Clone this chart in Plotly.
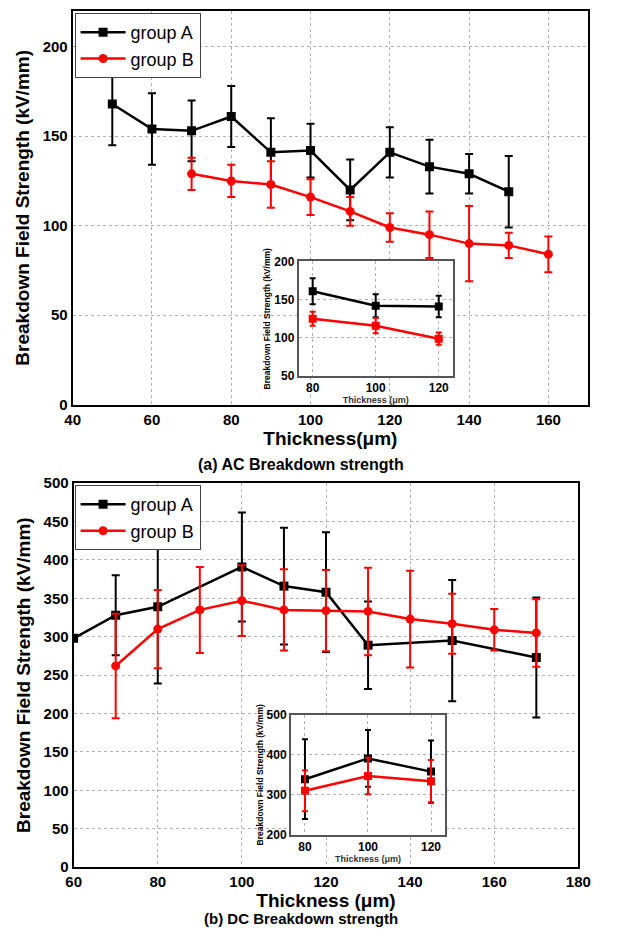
import plotly.graph_objects as go

# ---------- data ----------
ac_x_a = [50, 60, 70, 80, 90, 100, 110, 120, 130, 140, 150]
ac_y_a = [168, 154, 153, 161, 141, 142, 120, 141, 133, 129, 119]
ac_e_a = [23, 20, 17, 17, 19, 15, 17, 14, 15, 11, 20]

ac_x_b = [70, 80, 90, 100, 110, 120, 130, 140, 150, 160]
ac_y_b = [129, 125, 123, 116, 108, 99, 95, 90, 89, 84]
ac_e_b = [9, 9, 13, 10, 8, 8, 13, 21, 7, 10]

dc_x_a = [60, 70, 80, 100, 110, 120, 130, 150, 170]
dc_y_a = [298, 328, 339, 391, 366, 358, 289, 295, 273]
dc_e_a = [0, 52, 100, 71, 76, 78, 57, 79, 78]

dc_x_b = [70, 80, 90, 100, 110, 120, 130, 140, 150, 160, 170]
dc_y_b = [262, 310, 335, 347, 335, 334, 333, 323, 317, 309, 305]
dc_e_b = [68, 51, 56, 46, 53, 53, 57, 63, 39, 27, 44]

inset_x = [80, 100, 120]
series_names = ["group A", "group B"]
captions = ["(a) AC Breakdown strength", "(b) DC Breakdown strength"]

BLACK = "#000000"
RED = "#ff0000"
FONT = "Liberation Sans, Arial, sans-serif"


def subset(xs, ys, es, keep):
    out = [(x, y, e) for x, y, e in zip(xs, ys, es) if x in keep]
    return [o[0] for o in out], [o[1] for o in out], [o[2] for o in out]


fig = go.Figure()


def add_series(x, y, e, color, symbol, name, xa, ya, legend, showlegend, msize=9, lw=2.5, capw=4):
    fig.add_trace(go.Scatter(
        x=x, y=y, mode="lines+markers", name=name,
        line=dict(color=color, width=lw),
        marker=dict(symbol=symbol, size=msize, color=color),
        error_y=dict(type="data", array=e, visible=True, color=color,
                     thickness=2, width=capw),
        xaxis=xa, yaxis=ya, legend=legend, showlegend=showlegend,
    ))


add_series(ac_x_a, ac_y_a, ac_e_a, BLACK, "square", series_names[0], "x", "y", "legend", True)
add_series(ac_x_b, ac_y_b, ac_e_b, RED, "circle", series_names[1], "x", "y", "legend", True)
add_series(dc_x_a, dc_y_a, dc_e_a, BLACK, "square", series_names[0], "x2", "y2", "legend2", True)
add_series(dc_x_b, dc_y_b, dc_e_b, RED, "circle", series_names[1], "x2", "y2", "legend2", True)
x, y, e = subset(ac_x_a, ac_y_a, ac_e_a, inset_x)
add_series(x, y, e, BLACK, "square", series_names[0], "x3", "y3", "legend", False, msize=8, lw=2.5, capw=3)
x, y, e = subset(ac_x_b, ac_y_b, ac_e_b, inset_x)
add_series(x, y, e, RED, "square", series_names[1], "x3", "y3", "legend", False, msize=8, lw=2.5, capw=3)
x, y, e = subset(dc_x_a, dc_y_a, dc_e_a, inset_x)
add_series(x, y, e, BLACK, "square", series_names[0], "x4", "y4", "legend2", False, msize=8, lw=2.5, capw=3)
x, y, e = subset(dc_x_b, dc_y_b, dc_e_b, inset_x)
add_series(x, y, e, RED, "square", series_names[1], "x4", "y4", "legend2", False, msize=8, lw=2.5, capw=3)

# page offset (default body margin) and figure size fitting inside the window
OFF = 8
W, H = 618 - 2 * OFF, 950 - 2 * OFF


def clamp(v):
    return max(0.0, min(1.0, v))


def fx(p):
    return clamp((p - OFF) / W)


def fy(p):
    return clamp(1 - (p - OFF) / H)


def px_x(a, b):
    return [fx(a), fx(b)]


def px_y(top, bottom):
    return [fy(bottom), fy(top)]


grid = dict(showgrid=True, gridcolor="#b0b0b0", gridwidth=1, griddash="dot",
            zeroline=False, ticks="", showline=True, mirror=True)

main_tick = dict(family=FONT, size=15, color="black", weight="bold")
main_title = dict(family=FONT, size=19, color="black", weight="bold")
inset_tick = dict(family=FONT, size=12, color="black", weight="bold")

fig.update_layout(
    width=W, height=H,
    margin=dict(l=0, r=0, t=0, b=0),
    paper_bgcolor="white", plot_bgcolor="white",
    font=dict(family=FONT, color="black"),
    xaxis=dict(domain=px_x(75, 609), range=[40, 170], tickvals=[40, 60, 80, 100, 120, 140, 160],
               linecolor="black", linewidth=2, tickfont=main_tick, anchor="y",
               title=dict(text="Thickness(μm)", font=main_title, standoff=5), **grid),
    yaxis=dict(domain=px_y(10, 411), range=[0, 220], tickvals=[0, 50, 100, 150, 200],
               linecolor="black", linewidth=2, tickfont=main_tick, anchor="x",
               title=dict(text="Breakdown Field Strength (kV/mm)", font=main_title, standoff=8), **grid),
    xaxis2=dict(domain=px_x(76, 599), range=[60, 180], tickvals=[60, 80, 100, 120, 140, 160, 180],
                linecolor="black", linewidth=2, tickfont=main_tick, anchor="y2",
                ticklabeloverflow="allow",
                title=dict(text="Thickness (μm)", font=main_title, standoff=0), **grid),
    yaxis2=dict(domain=px_y(491, 882), range=[0, 500], tickvals=list(range(0, 501, 50)),
                linecolor="black", linewidth=2, tickfont=main_tick, anchor="x2",
                title=dict(text="Breakdown Field Strength (kV/mm)", font=main_title, standoff=8), **grid),
    xaxis3=dict(domain=px_x(309, 469), range=[75.5, 124.5], tickvals=[80, 100, 120],
                linecolor="#555555", linewidth=1.5, tickfont=inset_tick, anchor="y3",
                title=dict(text="Thickness (μm)", font=dict(family=FONT, size=9, color="#333", weight="bold"), standoff=2),
                **grid),
    yaxis3=dict(domain=px_y(265, 382), range=[50, 200], tickvals=[50, 100, 150, 200],
                linecolor="#555555", linewidth=1.5, tickfont=inset_tick, anchor="x3",
                title=dict(text="Breakdown Field Strength (kV/mm)", font=dict(family=FONT, size=8.5, color="black", weight="bold"), standoff=2),
                **grid),
    xaxis4=dict(domain=px_x(301, 461), range=[75.5, 124.5], tickvals=[80, 100, 120],
                linecolor="#555555", linewidth=1.5, tickfont=inset_tick, anchor="y4",
                title=dict(text="Thickness (μm)", font=dict(family=FONT, size=9, color="#333", weight="bold"), standoff=2),
                **grid),
    yaxis4=dict(domain=px_y(727, 849), range=[200, 500], tickvals=[200, 300, 400, 500],
                linecolor="#555555", linewidth=1.5, tickfont=inset_tick, anchor="x4",
                title=dict(text="Breakdown Field Strength (kV/mm)", font=dict(family=FONT, size=8.5, color="black", weight="bold"), standoff=2),
                **grid),
    legend=dict(x=fx(77), y=fy(12), xanchor="left", yanchor="top",
                bgcolor="white", bordercolor="#444", borderwidth=1,
                font=dict(family=FONT, size=18, color="black"),
                itemwidth=45, tracegroupgap=0),
    legend2=dict(x=fx(77), y=fy(493), xanchor="left", yanchor="top",
                 bgcolor="white", bordercolor="#444", borderwidth=1,
                 font=dict(family=FONT, size=18, color="black"),
                 itemwidth=45, tracegroupgap=0),
)

fig.add_annotation(text=captions[0], x=fx(312), y=fy(472), xref="paper", yref="paper",
                   showarrow=False, font=dict(family=FONT, size=16, color="black", weight="bold"),
                   xanchor="center", yanchor="middle")
fig.add_annotation(text=captions[1], x=fx(312), y=fy(934), xref="paper", yref="paper",
                   showarrow=False, font=dict(family=FONT, size=15, color="black", weight="bold"),
                   xanchor="center", yanchor="middle")

fig.write_html("out.html")
